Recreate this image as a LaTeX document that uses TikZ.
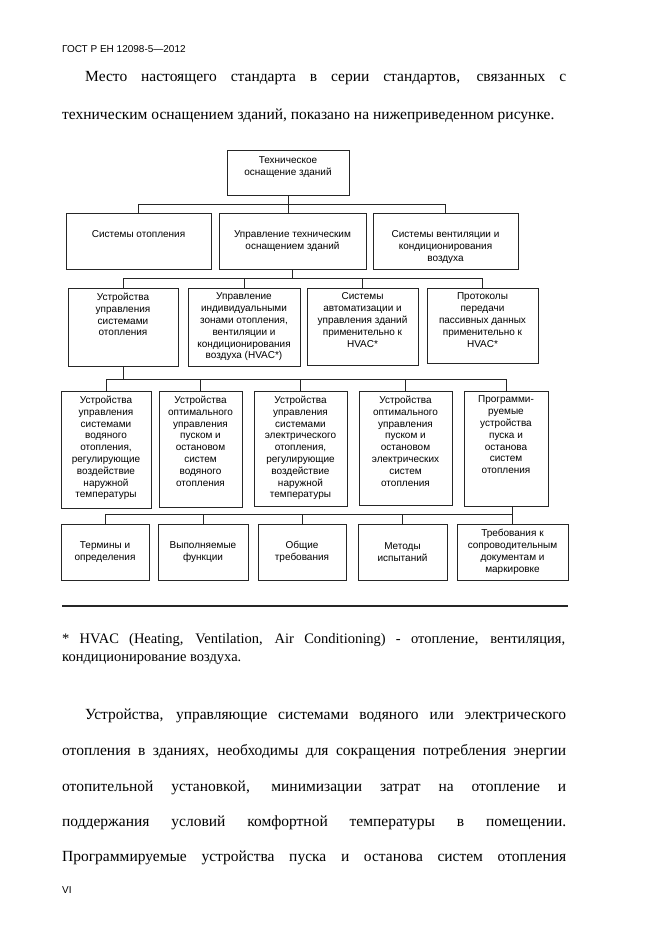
\documentclass[tikz,border=0pt]{standalone}
\usepackage{fontspec}
\setmainfont{Liberation Serif}
\setsansfont{Liberation Sans}
\usetikzlibrary{positioning}

\newcommand{\topcell}[4]{\begin{minipage}[c][#2][t]{#1}\centering\vspace*{#3}#4\end{minipage}}
\newcommand{\midcell}[3]{\begin{minipage}[c][#2][c]{#1}\centering #3\end{minipage}}

\tikzset{
    cell/.style={draw=black!85, line width=0.9pt, inner sep=0pt,
        font=\sffamily\fontsize{10}{11.8}\selectfont},
    link/.style={draw=black!85, line width=0.8pt},
    bodyline/.style={anchor=west, inner sep=0pt, font=\fontsize{15.5}{18}\selectfont},
    noteline/.style={anchor=west, inner sep=0pt, font=\fontsize{14.5}{17}\selectfont},
    pagemark/.style={anchor=west, inner sep=0pt, font=\sffamily\fontsize{10}{12}\selectfont}
}

\begin{document}
\begin{tikzpicture}[x=1pt, y=-1pt]
    \useasboundingbox[fill=white] (0,0) rectangle (661,935);

    \node[pagemark] (head) at (62,49) {ГОСТ Р ЕН 12098-5—2012};
    \node[bodyline] (p1a) at (85,78) {\makebox[481pt][s]{Место настоящего стандарта в серии стандартов, связанных с}};
    \node[bodyline] (p1b) at (62,116) {техническим оснащением зданий, показано на нижеприведенном рисунке.};

    % level 0 and 1
    \node[cell] (top) at (288,172.5) {\topcell{122pt}{45pt}{7pt}{Техническое\\оснащение зданий}};
    \node[cell] (heat) at (138.5,241) {\topcell{145pt}{56pt}{18pt}{Системы отопления}};
    \node[cell] (ctrl) at (292.5,241) {\topcell{147pt}{56pt}{18pt}{Управление техническим\\оснащением зданий}};
    \node[cell] (vent) at (445.5,241) {\topcell{145pt}{56pt}{18pt}{Системы вентиляции и\\кондиционирования\\воздуха}};

    % level 2
    \node[cell] (r3a) at (123,327) {\topcell{110pt}{78pt}{5pt}{Устройства\\управления\\системами\\отопления}};
    \node[cell] (r3b) at (244,327) {\topcell{112pt}{78pt}{5pt}{Управление\\индивидуальными\\зонами отопления,\\вентиляции и\\кондиционирования\\воздуха (HVAC*)}};
    \node[cell] (r3c) at (362.5,326.5) {\topcell{111pt}{77pt}{5pt}{Системы\\автоматизации и\\управления зданий\\применительно к\\HVAC*}};
    \node[cell] (r3d) at (482.5,325.5) {\topcell{111pt}{75pt}{5pt}{Протоколы\\передачи\\пассивных данных\\применительно к\\HVAC*}};

    % level 3
    \node[cell] (r4a) at (106,449.5) {\topcell{90pt}{117pt}{5pt}{Устройства\\управления\\системами\\водяного\\отопления,\\регулирующие\\воздействие\\наружной\\температуры}};
    \node[cell] (r4b) at (200.5,449) {\topcell{83pt}{116pt}{5pt}{Устройства\\оптимального\\управления\\пуском и\\остановом\\систем\\водяного\\отопления}};
    \node[cell] (r4c) at (300.5,448.5) {\topcell{93pt}{115pt}{5pt}{Устройства\\управления\\системами\\электрического\\отопления,\\регулирующие\\воздействие\\наружной\\температуры}};
    \node[cell] (r4d) at (405.5,448) {\topcell{93pt}{114pt}{5pt}{Устройства\\оптимального\\управления\\пуском и\\остановом\\электрических\\систем\\отопления}};
    \node[cell] (r4e) at (506,448.5) {\topcell{84pt}{115pt}{5pt}{Программи-\\руемые\\устройства\\пуска и\\останова\\систем\\отопления}};

    % level 4
    \node[cell] (r5a) at (105,552) {\midcell{88pt}{56pt}{Термины и\\определения}};
    \node[cell] (r5b) at (203,552) {\midcell{90pt}{56pt}{Выполняемые\\функции}};
    \node[cell] (r5c) at (302,552) {\midcell{88pt}{56pt}{Общие\\требования}};
    \node[cell] (r5d) at (402.5,552) {\midcell{89pt}{56pt}{Методы\\испытаний}};
    \node[cell] (r5e) at (512.5,552) {\midcell{111pt}{56pt}{Требования к\\сопроводительным\\документам и\\маркировке}};

    \draw[link] (top.south) -- ++(0,9) coordinate (j1);
    \draw[link] (heat.north) |- (j1) -| (vent.north);
    \draw[link] (j1) -- (j1 |- ctrl.north);

    \draw[link] (ctrl.south) -- ++(0,9) coordinate (j2);
    \draw[link] (r3a.north) |- (j2) -| (r3d.north);
    \draw[link] (r3b.north) -- (r3b.north |- j2);
    \draw[link] (r3c.north) -- (r3c.north |- j2);

    \draw[link] (r3a.south) -- ++(0,13) coordinate (j3);
    \draw[link] (r4a.north) |- (j3) -| (r4e.north);
    \draw[link] (r4b.north) -- (r4b.north |- j3);
    \draw[link] (r4c.north) -- (r4c.north |- j3);
    \draw[link] (r4d.north) -- (r4d.north |- j3);

    \draw[link] (r5e.north) -- ++(0,-9) coordinate (j4) -- (r5e.north |- r4e.south);
    \draw[link] (r5a.north) |- (j4);
    \draw[link] (r5b.north) -- (r5b.north |- j4);
    \draw[link] (r5c.north) -- (r5c.north |- j4);
    \draw[link] (r5d.north) -- (r5d.north |- j4);

    \draw[line width=2pt, black!85] (62,606) -- (568,606);

    \node[noteline] (n1) at (62,640) {\makebox[503pt][s]{* HVAC (Heating, Ventilation, Air Conditioning) - отопление, вентиляция,}};
    \node[noteline] (n2) at (62,660) {кондиционирование воздуха.};

    \node[bodyline] (p2a) at (85,716) {\makebox[481pt][s]{Устройства, управляющие системами водяного или электрического}};
    \node[bodyline] (p2b) at (62,752) {\makebox[504pt][s]{отопления в зданиях, необходимы для сокращения потребления энергии}};
    \node[bodyline] (p2c) at (62,788) {\makebox[504pt][s]{отопительной установкой, минимизации затрат на отопление и}};
    \node[bodyline] (p2d) at (62,823) {\makebox[504pt][s]{поддержания условий комфортной температуры в помещении.}};
    \node[bodyline] (p2e) at (62,858) {\makebox[504pt][s]{Программируемые устройства пуска и останова систем отопления}};

    \node[pagemark] (folio) at (62,890) {VI};
\end{tikzpicture}
\end{document}
